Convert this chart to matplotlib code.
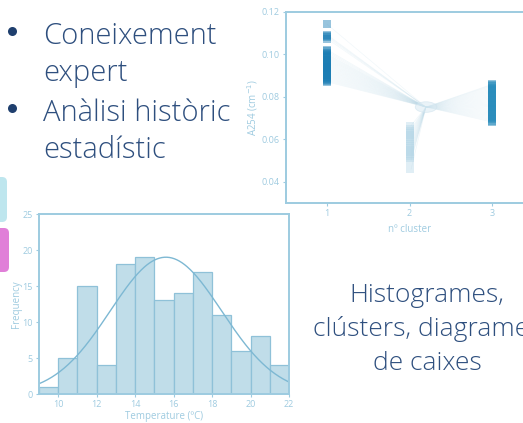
import numpy as np
import matplotlib
matplotlib.use("Agg")
import matplotlib.pyplot as plt
from matplotlib.patches import FancyBboxPatch, Ellipse

# ---------------- data ----------------
bin_edges = [9, 10, 11, 12, 13, 14, 15, 16, 17, 18, 19, 20, 21, 22]
bin_counts = [1, 5, 15, 4, 18, 19, 13, 14, 17, 11, 6, 8, 4]
hist_xticks = [10, 12, 14, 16, 18, 20, 22]
hist_yticks = [0, 5, 10, 15, 20, 25]
fit_mean, fit_sd, fit_peak = 15.6, 2.9, 19.0

cluster1 = [0.0871, 0.0876, 0.0881, 0.0886, 0.0891, 0.0896, 0.0901, 0.0906,
            0.0911, 0.0916, 0.0921, 0.0926, 0.0931, 0.0936, 0.0941, 0.0946,
            0.0951, 0.0956, 0.0961, 0.0966, 0.0971, 0.0976, 0.0981, 0.0986,
            0.0991, 0.0996, 0.1001, 0.1008, 0.1015, 0.1022,
            0.1074, 0.1082, 0.1088, 0.1093, 0.1142]
cluster2 = [0.0500, 0.0510, 0.0520, 0.0530, 0.0540, 0.0550, 0.0560, 0.0570,
            0.0580, 0.0590, 0.0600, 0.0610, 0.0620, 0.0630, 0.0640, 0.0650,
            0.0665, 0.0460]
cluster3 = [0.0682, 0.0688, 0.0694, 0.0700, 0.0706, 0.0712, 0.0718, 0.0724,
            0.0730, 0.0736, 0.0742, 0.0748, 0.0754, 0.0760, 0.0766, 0.0772,
            0.0778, 0.0784, 0.0790, 0.0796, 0.0802, 0.0808, 0.0814, 0.0820,
            0.0826, 0.0832, 0.0838, 0.0844, 0.0850, 0.0855, 0.0859]
center = (2.2, 0.0752)
scatter_yticks = [0.04, 0.06, 0.08, 0.10, 0.12]
scatter_xticks = [1, 2, 3]

bullets = ["Coneixement\nexpert", "Anàlisi històric\nestadístic"]
side_text = "Histogrames,\nclústers, diagrames\nde caixes"

# ---------------- style ----------------
W, H = 523, 423
FONT = ["Open Sans", "DejaVu Sans"]
plt.rcParams['font.family'] = FONT
spine_c = "#9DCBE0"
tick_c = "#9FCBE0"
text_c = "#2E4F7E"

fig = plt.figure(figsize=(W / 100, H / 100), dpi=100)
fig.patch.set_facecolor("white")

# overlay in pixel coords for slide decorations
ov = fig.add_axes([0, 0, 1, 1], zorder=0)
ov.set_xlim(0, W)
ov.set_ylim(H, 0)
ov.axis("off")

ov.add_patch(FancyBboxPatch((-12, 177), 19, 45, boxstyle="round,pad=0,rounding_size=5",
                            fc="#BEE6EE", ec="none"))
ov.add_patch(FancyBboxPatch((-12, 228), 21, 44, boxstyle="round,pad=0,rounding_size=5",
                            fc="#E07FD8", ec="none"))

bullet_y = [31, 108]
text_y = [44, 121]
for txt, by, ty in zip(bullets, bullet_y, text_y):
    ov.plot([12], [by], marker="o", ms=6.5, color="#1F3F6E", mec="none")
    ov.text(43, ty, txt.split("\n")[0], fontsize=21, color=text_c, ha="left",
            va="baseline", fontweight="light")
    ov.text(43, ty + 37, txt.split("\n")[1], fontsize=21, color=text_c, ha="left",
            va="baseline", fontweight="light")

for i, line in enumerate(side_text.split("\n")):
    ov.text(427, 302 + 34 * i, line, fontsize=19, color=text_c, ha="center",
            va="baseline", fontweight="light")

def style_axes(ax):
    for s in ax.spines.values():
        s.set_color(spine_c)
        s.set_linewidth(1.4)
    ax.tick_params(colors=spine_c, labelcolor=tick_c, labelsize=6.5, length=2.5, width=0.8,
                   pad=2)

# ---------------- histogram ----------------
axh = fig.add_axes([39 / W, 1 - 394 / H, 250 / W, 180 / H], zorder=1)
centers = [(a + b) / 2 for a, b in zip(bin_edges[:-1], bin_edges[1:])]
widths = [b - a for a, b in zip(bin_edges[:-1], bin_edges[1:])]
axh.bar(centers, bin_counts, width=widths, color="#C0DDE9", edgecolor="#8FC1D8", linewidth=0.9)
xs = np.linspace(bin_edges[0], bin_edges[-1], 300)
ys = fit_peak * np.exp(-(xs - fit_mean) ** 2 / (2 * fit_sd ** 2))
axh.plot(xs, ys, color="#7DB8D3", lw=1.0)
axh.set_xlim(bin_edges[0], bin_edges[-1])
axh.set_ylim(0, 25)
axh.set_xticks(hist_xticks)
axh.set_yticks(hist_yticks)
axh.set_xlabel("Temperature (ºC)", color=tick_c, fontsize=7, labelpad=1)
axh.set_ylabel("Frequency", color=tick_c, fontsize=7, labelpad=0)
style_axes(axh)

# ---------------- cluster plot ----------------
axs = fig.add_axes([286 / W, 1 - 203 / H, 247 / W, 191 / H], zorder=1)
for xpos, vals in ((1, cluster1), (3, cluster3)):
    for v in vals:
        axs.plot([xpos, center[0]], [v, center[1]], color="#B5D7E7", lw=0.45, alpha=0.2, zorder=1)
for v in cluster2:
    axs.plot([2.02, center[0]], [v, center[1]], color="#B5D7E7", lw=0.45, alpha=0.25, zorder=1)
axs.add_patch(Ellipse(center, 0.26, 0.005, fc="#DDECF4", ec="#CFE3EE", lw=0.6, alpha=0.6, zorder=1))
axs.scatter([1] * len(cluster1), cluster1, marker="s", s=34, color="#1B7DB4", alpha=0.45,
            linewidths=0, zorder=3)
axs.scatter([2] * len(cluster2), cluster2, marker="s", s=34, color="#B3D5E6", alpha=0.4,
            linewidths=0, zorder=3)
axs.scatter([3] * len(cluster3), cluster3, marker="s", s=34, color="#2A8DBC", alpha=0.5,
            linewidths=0, zorder=3)
axs.set_xlim(0.5, 3.5)
axs.set_ylim(0.03, 0.12)
axs.set_xticks(scatter_xticks)
axs.set_yticks(scatter_yticks)
axs.set_yticklabels([f"{t:.2f}" for t in scatter_yticks])
axs.set_xlabel("nº cluster", color=tick_c, fontsize=7, labelpad=4)
axs.set_ylabel("A254 (cm$^{-1}$)", color=tick_c, fontsize=7, labelpad=1)
style_axes(axs)
axs.spines["right"].set_visible(False)

fig.savefig("out.png", dpi=100)
